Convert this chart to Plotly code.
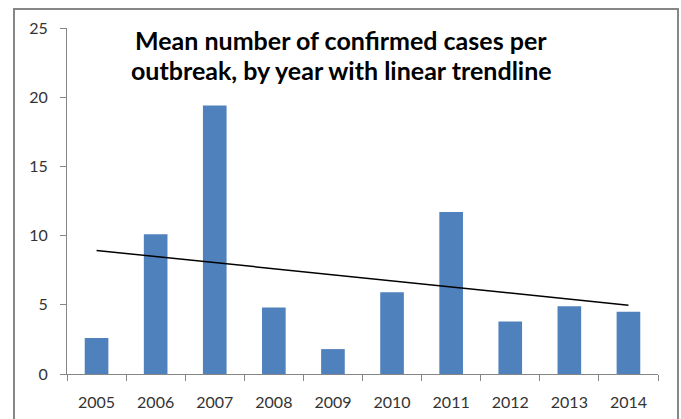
import numpy as np
import plotly.graph_objects as go

# Mean confirmed cases per outbreak, by year
years = ["2005", "2006", "2007", "2008", "2009", "2010", "2011", "2012", "2013", "2014"]
mean_cases = [2.6, 10.1, 19.4, 4.8, 1.8, 5.9, 11.7, 3.8, 4.9, 4.5]
y_ticks = [0, 5, 10, 15, 20, 25]
title_lines = ["Mean number of confirmed cases per",
               "outbreak, by year with linear trendline"]

# Least-squares linear trendline over the year index
idx = np.arange(len(years))
slope, intercept = np.polyfit(idx, mean_cases, 1)
trend = (slope * idx + intercept).tolist()

axis_grey = "#868686"
text_grey = "#333333"
tick_font = dict(family="Lato", size=16, color=text_grey)

# plot area in pixels: left 67, right 658, top 28, bottom 374
L, R, T, B = 67, 23, 28, 45
PW, PH = 681 - L - R, 419 - T - B


def px_to_paper_y(py):
    return (419 - B - py) / PH


def px_to_paper_x(px):
    return (px - L) / PW


fig = go.Figure()
fig.add_trace(go.Bar(
    x=years, y=mean_cases, width=0.4,
    marker=dict(color="#4F81BD", line=dict(width=0)),
    showlegend=False,
))
fig.add_trace(go.Scatter(
    x=years, y=trend, mode="lines",
    line=dict(color="black", width=1.5),
    showlegend=False,
))

fig.update_layout(
    width=681, height=419,
    margin=dict(l=L, r=R, t=T, b=B),
    paper_bgcolor="white", plot_bgcolor="white",
    xaxis=dict(
        type="category", tickson="boundaries", ticks="outside", ticklen=6,
        tickcolor=axis_grey, showline=True, linecolor=axis_grey, linewidth=1,
        showgrid=False, tickfont=tick_font, zeroline=False,
        ticklabelstandoff=14, automargin=False,
    ),
    yaxis=dict(
        range=[0, 25], tickvals=y_ticks, ticks="outside", ticklen=6,
        tickcolor=axis_grey, showline=True, linecolor=axis_grey, linewidth=1,
        showgrid=False, zeroline=False, tickfont=tick_font, ticklabelstandoff=9,
        automargin=False,
    ),
    annotations=[
        dict(text="<b>%s</b>" % line, xref="paper", yref="paper",
             x=px_to_paper_x(341), y=px_to_paper_y(py),
             xanchor="center", yanchor="middle", showarrow=False,
             font=dict(family="Lato", size=25, color="black"))
        for line, py in zip(title_lines, [40, 70])
    ],
    shapes=[dict(
        type="rect", xref="paper", yref="paper",
        x0=px_to_paper_x(14), x1=px_to_paper_x(678),
        y0=-0.3, y1=px_to_paper_y(9),
        line=dict(color=axis_grey, width=2), fillcolor="rgba(0,0,0,0)",
        layer="below",
    )],
)

fig.write_html("out.html")
